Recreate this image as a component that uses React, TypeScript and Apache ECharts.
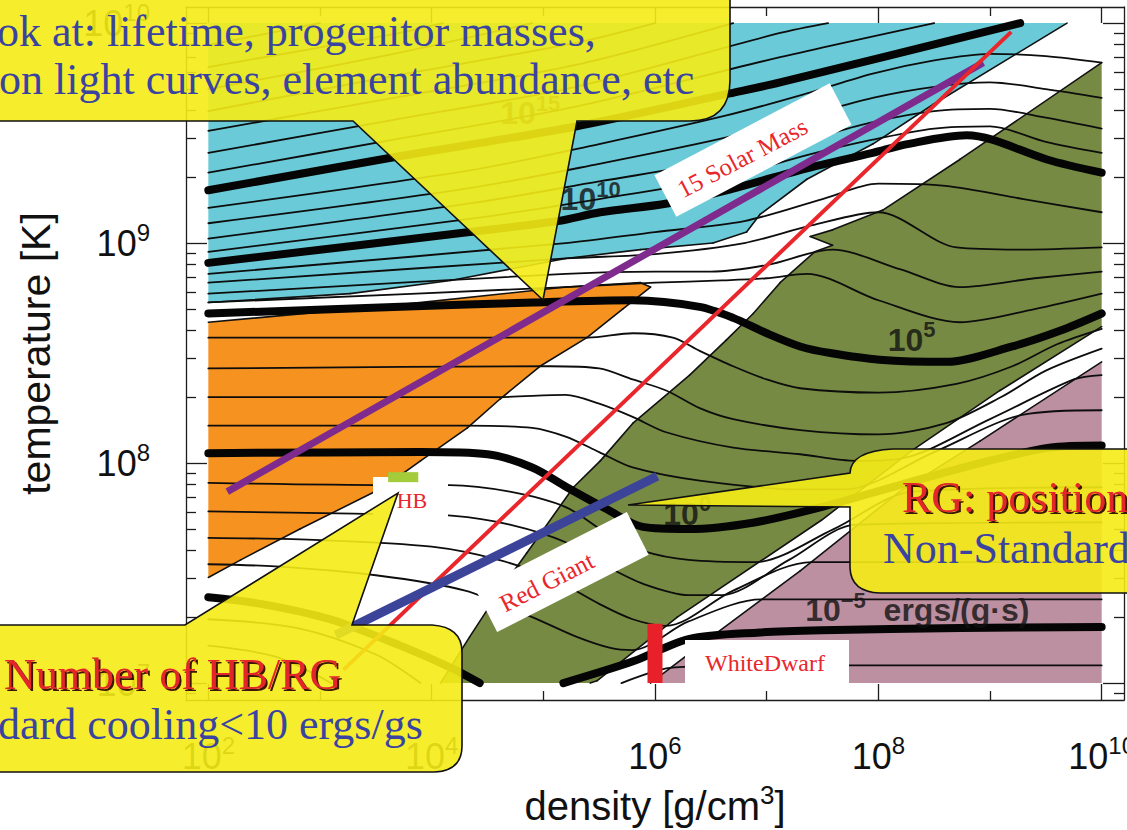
import React, { useEffect, useRef } from 'react';
import * as echarts from 'echarts';

const SANS = '"Liberation Sans", Arial, Helvetica, sans-serif';
const SERIF = '"Liberation Serif", "Times New Roman", serif';
const AX = '#1c1c1c';

// axis extents (log10 of density / temperature)
const X_MIN = 1.8, X_MAX = 10.2, Y_MIN = 6.923, Y_MAX = 10.073;
const xMajorTicks = [2, 4, 6, 8, 10];
const xMinorTicks = [3, 5, 7, 9];
const yMajorTicks = [7, 8, 9, 10];
const yMinorTicks: number[] = [];
[6, 7, 8, 9, 10].forEach((n) => {
  for (let k = 2; k <= 9; k++) {
    const v = n + Math.log10(k);
    if (v > Y_MIN && v < Y_MAX) yMinorTicks.push(v);
  }
});

// shaded regions [log10 rho, log10 T]
const cyanRegion = [[2, 10], [9.69, 10], [8.49, 9.63], [7.95, 9.45], [7.36, 9.29], [6.94, 9.13], [6.82, 9.05], [6.52, 9.0], [5.87, 8.97], [5.2, 8.93], [4.17, 8.83], [3.27, 8.77], [2, 8.73]];
const orangeRegion = [[2, 8.64], [3.72, 8.72], [5.2, 8.8], [5.87, 8.82], [5.96, 8.8], [5.71, 8.7], [5.39, 8.57], [4.97, 8.44], [4.61, 8.29], [4.32, 8.16], [3.9, 8.01], [3.57, 7.89], [2.82, 7.7], [2.29, 7.56], [2, 7.48]];
const greenRegion = [[4.08, 7], [4.34, 7.21], [4.61, 7.42], [4.85, 7.59], [5.27, 7.89], [5.51, 8.01], [5.8, 8.18], [6.31, 8.4], [6.64, 8.56], [6.88, 8.68], [7.12, 8.82], [7.43, 8.96], [7.59, 8.99], [7.39, 9.03], [7.59, 9.06], [8.04, 9.15], [8.73, 9.38], [10, 9.82], [10, 8.62], [9.09, 8.33], [8.31, 8.06], [7.49, 7.74], [6.2, 7.3], [5.48, 7.01], [5.42, 7]];
const mauveRegion = [[10, 8.46], [10, 7], [5.96, 7], [6.4, 7.17], [7.3, 7.51], [8.19, 7.87], [8.91, 8.1]];

// thick contours (every 5 decades of emission rate)
const thick15 = [[2, 9.24], [3.66, 9.39], [5.29, 9.53], [6.67, 9.68], [7.12, 9.73], [9.27, 10]];
const thick10 = [[2, 8.91], [4.34, 9.05], [5.13, 9.1], [5.51, 9.14], [6.11, 9.18], [6.64, 9.24], [7.36, 9.34], [7.95, 9.41], [8.26, 9.45], [8.79, 9.49], [9.02, 9.47], [9.51, 9.38], [10, 9.32]];
const thick5 = [[2, 8.68], [3.72, 8.71], [4.91, 8.73], [5.8, 8.74], [6.4, 8.71], [6.7, 8.66], [7.0, 8.59], [7.3, 8.53], [7.57, 8.5], [8.01, 8.47], [8.61, 8.46], [9.2, 8.53], [9.62, 8.6], [10, 8.68]];
const thick0 = [[2, 8.045], [3.9, 8.05], [4.5, 8.04], [4.9, 7.98], [5.21, 7.89], [5.57, 7.79], [5.89, 7.71], [6.3, 7.7], [6.89, 7.73], [7.49, 7.8], [8.19, 7.9], [8.91, 8.0], [9.53, 8.07], [10, 8.08]];
const thickM5a = [[2, 7.39], [2.47, 7.36], [3.09, 7.29], [3.72, 7.17], [4.17, 7.07], [4.43, 7]];
const thickM5b = [[5.18, 7], [5.81, 7.1], [6.3, 7.2], [6.94, 7.23], [7.49, 7.24], [8.73, 7.25], [10, 7.255]];

// thin contours (every decade)
const t1 = [[2, 9.32], [3.66, 9.47], [5.29, 9.62], [7.12, 9.845], [8.5, 10]];
const t2 = [[2, 9.41], [3.66, 9.56], [5.29, 9.71], [7.12, 9.955], [7.55, 10]];
const t3 = [[2, 9.51], [3.66, 9.66], [5.29, 9.81], [6.7, 10]];
const t4 = [[2, 9.6], [3.66, 9.76], [5.29, 9.91], [6.0, 10]];
const t5 = [[2, 9.7], [3.66, 9.86], [4.9, 10]];
const t6 = [[2, 9.8], [3.66, 9.95], [4.1, 10]];
const t7 = [[2, 9.9], [3.0, 10]];
const l1 = [[2, 9.16], [4.34, 9.33], [5.5, 9.45], [6.64, 9.58], [7.36, 9.68], [7.95, 9.77], [8.5, 9.83], [9.0, 9.86], [9.5, 9.85], [10, 9.82]];
const l2 = [[2, 9.09], [4.34, 9.25], [5.5, 9.36], [6.64, 9.48], [7.36, 9.58], [7.95, 9.66], [8.5, 9.71], [9.0, 9.73], [9.5, 9.7], [10, 9.66]];
const l3 = [[2, 9.02], [4.34, 9.18], [5.5, 9.28], [6.64, 9.38], [7.36, 9.47], [7.95, 9.55], [8.5, 9.6], [9.0, 9.61], [9.5, 9.57], [10, 9.52]];
const l4 = [[2, 8.96], [4.34, 9.11], [5.5, 9.2], [6.64, 9.3], [7.36, 9.4], [7.95, 9.47], [8.5, 9.52], [9.0, 9.53], [9.5, 9.46], [10, 9.41]];
const m1 = [[2, 8.86], [5.2, 9.0], [6.0, 9.05], [6.8, 9.1], [7.5, 9.2], [8.0, 9.27], [8.6, 9.26], [9.3, 9.2], [10, 9.14]];
const m2 = [[2, 8.82], [5.2, 8.93], [6.0, 8.95], [6.8, 9.0], [7.4, 9.08], [8.0, 9.14], [8.7, 8.98], [9.3, 8.97], [10, 8.98]];
const m3 = [[2, 8.77], [5.2, 8.86], [6.0, 8.87], [6.5, 8.87], [7.0, 8.9], [7.59, 8.97], [8.2, 8.88], [8.73, 8.8], [9.4, 8.84], [10, 8.87]];
const m4 = [[2, 8.73], [5.2, 8.8], [6.0, 8.82], [6.6, 8.83], [7.0, 8.84], [7.36, 8.86], [8.0, 8.74], [8.73, 8.64], [9.4, 8.7], [10, 8.77]];
const n1 = [[2, 8.57], [5.4, 8.57], [5.8, 8.59], [6.16, 8.57], [6.4, 8.51], [6.7, 8.44], [7.0, 8.38], [7.3, 8.34], [8.0, 8.32], [8.7, 8.36], [9.2, 8.44], [9.6, 8.54], [10, 8.61]];
const n2 = [[2, 8.43], [5.06, 8.44], [5.5, 8.43], [5.8, 8.38], [6.1, 8.33], [6.4, 8.25], [6.7, 8.2], [7.3, 8.15], [8.0, 8.13], [8.6, 8.18], [9.1, 8.3], [9.5, 8.42], [10, 8.52]];
const n3 = [[2, 8.3], [4.6, 8.3], [5.2, 8.31], [5.5, 8.27], [5.8, 8.21], [6.1, 8.14], [6.7, 8.07], [7.3, 8.04], [7.8, 8.01], [8.2, 8.02], [9.0, 8.2], [9.75, 8.38], [10, 8.4]];
const n4 = [[2, 8.17], [4.3, 8.17], [4.9, 8.16], [5.2, 8.12], [5.5, 8.05], [5.8, 7.98], [6.4, 7.92], [7.3, 7.88], [7.7, 7.88], [8.5, 8.05], [9.3, 8.22], [10, 8.24]];
const p1 = [[2, 7.91], [3.6, 7.9], [4.16, 7.9], [4.7, 7.87], [5.2, 7.8], [5.57, 7.68], [5.9, 7.6], [6.3, 7.56], [6.9, 7.55], [7.6, 7.7], [8.3, 7.87], [10, 7.89]];
const p2 = [[2, 7.78], [3.3, 7.77], [4.2, 7.76], [4.7, 7.72], [5.2, 7.64], [5.57, 7.53], [5.9, 7.45], [6.3, 7.4], [6.6, 7.4], [7.2, 7.56], [7.8, 7.72], [10, 7.73]];
const p3 = [[2, 7.66], [3.0, 7.65], [4.0, 7.62], [4.6, 7.56], [5.1, 7.47], [5.5, 7.36], [5.8, 7.29], [6.1, 7.26], [6.7, 7.42], [7.4, 7.55], [10, 7.55]];
const p4 = [[2, 7.54], [2.6, 7.53], [3.5, 7.49], [4.3, 7.42], [4.9, 7.3], [5.3, 7.21], [5.6, 7.16], [5.8, 7.15], [6.3, 7.28], [6.95, 7.38], [10, 7.38]];
const q1 = [[2, 7.29], [2.8, 7.25], [3.5, 7.13], [3.9, 7]];
const q2 = [[2, 7.17], [2.6, 7.12], [3.1, 7]];
const r1 = [[5.7, 7], [6.15, 7.07], [7.0, 7.08], [10, 7.08]];

const thickContours = [thick15, thick10, thick5, thick0, thickM5a, thickM5b];
const thinContours = [t1, t2, t3, t4, t5, t6, t7, l1, l2, l3, l4, m1, m2, m3, m4, n1, n2, n3, n4, p1, p2, p3, p4, q1, q2, r1];

// contour labels
const contourLabelPos = [[4.61, 9.59], [5.15, 9.2], [8.08, 8.56], [6.07, 7.77], [7.34, 7.33]];
const contourLabelExp = ['15', '10', '5', '0', '\u22125'];
const contourLabelSuffix = ['', '', '', '', '  ergs/(g\u00b7s)'];

// stellar tracks
const solarMass15Track = [[2.17, 7.87], [8.94, 9.82]];
const redLine = [[3.21, 7.06], [9.19, 9.96]];
const redGiantTrack = [[3.14, 7.218], [6.02, 7.94]];
const whiteDwarfBar = [[6.0, 7.0], [6.0, 7.27]];
const hbBar = [[3.61, 7.936], [3.88, 7.936]];

// callout shapes
echarts.graphic.registerShape('calloutTop', echarts.graphic.extendPath('M -10 -10 L 730 -10 L 730 80 Q 730 121 690 121 L 577 121 L 543 300 L 353 121 L -10 121 Z', {}));
echarts.graphic.registerShape('calloutRight', echarts.graphic.extendPath('M 1140 449 L 893 449 Q 851 451 850 473 L 628 505 L 850 507 L 850 568 Q 851 592 880 593 L 1140 593 Z', {}));
echarts.graphic.registerShape('calloutBottom', echarts.graphic.extendPath('M -10 625 L 185 625 L 398 493 L 352 625 L 432 625 Q 462 627 462 652 L 462 746 Q 462 771 434 772 L -10 772 Z', {}));

const isBorderEdge = (a: number[], b: number[]) =>
  (a[0] === b[0] && (a[0] === 2 || a[0] === 10)) || (a[1] === b[1] && (a[1] === 7 || a[1] === 10));

function regionSeries(pts: number[][], color: string) {
  return {
    type: 'custom', coordinateSystem: 'cartesian2d', silent: true, z: 1,
    data: pts, encode: { x: 0, y: 1 },
    renderItem: (params: any, api: any) => {
      if (params.dataIndex !== 0) return null;
      const px = pts.map((p) => api.coord(p));
      const children: any[] = [{ type: 'polygon', shape: { points: px }, style: { fill: color, stroke: 'none' } }];
      for (let i = 0; i < pts.length; i++) {
        const j = (i + 1) % pts.length;
        if (isBorderEdge(pts[i], pts[j])) continue;
        children.push({ type: 'line', shape: { x1: px[i][0], y1: px[i][1], x2: px[j][0], y2: px[j][1] }, style: { stroke: '#111', lineWidth: 1.6, lineCap: 'round' } });
      }
      return { type: 'group', children };
    },
  };
}

const tickRich = {
  b: { fontSize: 36, fontFamily: SANS, color: '#111' },
  s: { fontSize: 24, fontFamily: SANS, color: '#111', padding: [0, 0, 22, 0] },
};
const powFmt = (v: number) => `{b|10}{s|${Math.round(v)}}`;

function xAx(position: string, ticks: number[], len: number, withLabels: boolean, withLine: boolean, extra: any = {}) {
  return {
    type: 'value', position, min: X_MIN, max: X_MAX,
    axisLine: { show: withLine, onZero: false, lineStyle: { color: AX, width: 1.3 } },
    axisTick: { show: true, inside: true, length: len, customValues: ticks, lineStyle: { color: AX, width: 1.3 } },
    axisLabel: withLabels ? { show: true, customValues: ticks, margin: 33, formatter: powFmt, rich: tickRich, hideOverlap: false } : { show: false },
    splitLine: { show: false },
    ...extra,
  };
}
function yAx(position: string, ticks: number[], len: number, withLabels: boolean, withLine: boolean, extra: any = {}) {
  return {
    type: 'value', position, min: Y_MIN, max: Y_MAX,
    axisLine: { show: withLine, onZero: false, lineStyle: { color: AX, width: 1.3 } },
    axisTick: { show: true, inside: true, length: len, customValues: ticks, lineStyle: { color: AX, width: 1.3 } },
    axisLabel: withLabels ? { show: true, customValues: ticks, margin: 36, formatter: powFmt, rich: tickRich } : { show: false },
    splitLine: { show: false },
    ...extra,
  };
}

const lineSeries = (data: number[][], color: string, width: number, z: number, cap = 'butt', smooth: any = false) => ({
  type: 'line', data, showSymbol: false, symbol: 'none', silent: true, z, smooth,
  lineStyle: { color, width, cap, join: 'round' },
});

function buildOption() {
  const series: any[] = [
    regionSeries(cyanRegion, '#6BCAD7'),
    regionSeries(orangeRegion, '#F6921F'),
    regionSeries(greenRegion, '#768A43'),
    regionSeries(mauveRegion, '#BC8FA1'),
    ...thinContours.map((c) => lineSeries(c, '#0d0d0d', 1.8, 2, 'round', 0.3)),
    ...thickContours.map((c) => lineSeries(c, '#050505', 8, 3, 'round', 0.3)),
    {
      type: 'scatter', silent: true, z: 4, symbolSize: 1, itemStyle: { color: 'rgba(0,0,0,0)' },
      data: contourLabelPos,
      label: {
        show: true, position: 'right', distance: 0,
        formatter: (p: any) => `{b|10}{s|${contourLabelExp[p.dataIndex]}}{b|${contourLabelSuffix[p.dataIndex]}}`,
        rich: {
          b: { fontSize: 32, fontFamily: SANS, fontWeight: 'bold', color: '#111' },
          s: { fontSize: 22, fontFamily: SANS, fontWeight: 'bold', color: '#111', padding: [0, 0, 20, 0] },
        },
      },
    },
    lineSeries(solarMass15Track, '#7E2B8D', 7, 5),
    lineSeries(redLine, '#E8262B', 4, 5),
    lineSeries(redGiantTrack, '#3B4499', 9, 5),
    lineSeries(whiteDwarfBar, '#E8202A', 15, 60),
    lineSeries(hbBar, '#A4CB3A', 10, 60),
  ];

  const box = (cx: number, cy: number, w: number, h: number, deg: number, text: string, tx: number, ty: number, fs: number) => ({
    type: 'group', x: cx, y: cy, rotation: (deg * Math.PI) / 180, z: 50,
    children: [
      { type: 'rect', z: 50, shape: { x: -w / 2, y: -h / 2, width: w, height: h }, style: { fill: '#ffffff' } },
      { type: 'text', z: 51, x: tx, y: ty, style: { text, fill: '#E8262B', font: `${fs}px ${SERIF}`, textAlign: 'center', textVerticalAlign: 'middle', verticalAlign: 'middle' } },
    ],
  });

  const calloutStyle = { fill: 'rgba(245,236,22,0.9)', stroke: '#111', lineWidth: 1.6 };
  const ctext = (x: number, y: number, text: string, color: string, shadow: boolean) => ({
    type: 'text', x, y, z: 101,
    style: {
      text, fill: color, font: `44px ${SERIF}`, textAlign: 'left', textVerticalAlign: 'middle', verticalAlign: 'middle',
      ...(shadow ? { textShadowColor: 'rgba(40,0,0,0.9)', textShadowOffsetX: 2, textShadowOffsetY: 2, textShadowBlur: 1 } : {}),
    },
  });

  const graphic = [
    box(753, 150, 198, 47, 27.7, '15 Solar Mass', -13, 2, 25),
    box(562, 572, 170, 48, 27, 'Red Giant', -18, 2, 25),
    { type: 'rect', z: 50, shape: { x: 373, y: 477, width: 75, height: 48 }, style: { fill: '#ffffff' } },
    { type: 'text', z: 51, x: 412, y: 500, style: { text: 'HB', fill: '#E8262B', font: `22px ${SERIF}`, textAlign: 'center', textVerticalAlign: 'middle', verticalAlign: 'middle' } },
    { type: 'rect', z: 50, shape: { x: 685, y: 640, width: 164, height: 45 }, style: { fill: '#ffffff' } },
    { type: 'text', z: 51, x: 765, y: 663, style: { text: 'WhiteDwarf', fill: '#E8262B', font: `24px ${SERIF}`, textAlign: 'center', textVerticalAlign: 'middle', verticalAlign: 'middle' } },
    { type: 'calloutTop', x: 0, y: 0, z: 100, style: calloutStyle },
    { type: 'calloutRight', x: 0, y: 0, z: 100, style: calloutStyle },
    { type: 'calloutBottom', x: 0, y: 0, z: 100, style: calloutStyle },
    ctext(-3, 31, 'ok at: lifetime, progenitor masses,', '#3A44A0', false),
    ctext(-1, 79, 'on light curves, element abundance, etc', '#3A44A0', false),
    ctext(902, 497, 'RG: position', '#E3262B', true),
    ctext(883, 548, 'Non-Standard', '#3A44A0', false),
    ctext(4, 674, 'Number of HB/RG', '#E3262B', true),
    ctext(-2, 724, 'dard cooling<10 ergs/gs', '#3A44A0', false),
  ];

  return {
    animation: false,
    backgroundColor: '#ffffff',
    grid: { left: 186, top: 7, width: 938, height: 693, containLabel: false, outerBoundsMode: 'none' },
    xAxis: [
      xAx('bottom', xMajorTicks, 16, true, true, {
        name: '{a|density [g/cm}{s|3}{a|]}', nameLocation: 'middle', nameGap: 82,
        nameTextStyle: { rich: { a: { fontSize: 40, fontFamily: SANS, color: '#111' }, s: { fontSize: 26, fontFamily: SANS, color: '#111', padding: [0, 0, 22, 0] } } },
      }),
      xAx('bottom', xMinorTicks, 9, false, false),
      xAx('top', xMajorTicks, 16, false, true),
      xAx('top', xMinorTicks, 9, false, false),
    ],
    yAxis: [
      yAx('left', yMajorTicks, 21, true, true, {
        name: 'temperature [K]', nameLocation: 'middle', nameGap: 130,
        nameTextStyle: { fontSize: 41, fontFamily: SANS, color: '#111' },
      }),
      yAx('left', yMinorTicks, 10, false, false),
      yAx('right', yMajorTicks, 21, false, true),
      yAx('right', yMinorTicks, 10, false, false),
    ],
    series,
    graphic,
  };
}

export default function App() {
  const ref = useRef<HTMLDivElement>(null);
  useEffect(() => {
    document.body.style.margin = '0';
    const chart = echarts.init(ref.current as HTMLDivElement, null, { renderer: 'svg' });
    chart.setOption(buildOption() as any);
    return () => chart.dispose();
  }, []);
  return <div ref={ref} style={{ width: 1127, height: 830 }} />;
}
